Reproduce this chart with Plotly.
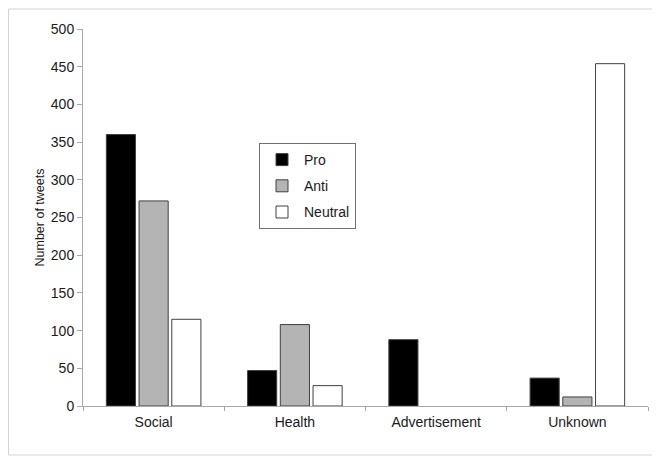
import plotly.graph_objects as go

categories = ["Social", "Health", "Advertisement", "Unknown"]
pro = [360, 47, 88, 37]
anti = [272, 108, 0, 12]
neutral = [115, 27, 0, 454]
y_ticks = [0, 50, 100, 150, 200, 250, 300, 350, 400, 450, 500]

series = [("Pro", pro, "#000000"), ("Anti", anti, "#b4b4b4"), ("Neutral", neutral, "#ffffff")]

# page body has an 8px margin; work in screenshot pixels and shift
OFF = 8
W, H = 652, 454
L, R, T, B = 83 - OFF, 660 - 648, 29 - OFF, 462 - 406
pw, ph = W - L - R, H - T - B

def px_x(x):
    return (x - OFF - L) / pw

def px_y(y):
    return (T + ph - (y - OFF)) / ph

fig = go.Figure()
for name, vals, col in series:
    fig.add_trace(go.Bar(
        x=categories, y=vals, name=name, legendgroup=name,
        marker=dict(color=col, line=dict(color="#404040",
                                         width=[1 if v > 0 else 0 for v in vals])),
    ))

fig.update_layout(
    width=W, height=H,
    margin=dict(l=L, r=R, t=T, b=B, autoexpand=False),
    paper_bgcolor="white", plot_bgcolor="white",
    barmode="group", bargap=0.305, bargroupgap=0.11,
    font=dict(family="Liberation Sans, Arial, sans-serif", size=14, color="#1a1a1a"),
    showlegend=True,
    legend=dict(
        x=px_x(259), y=px_y(143), xanchor="left", yanchor="top",
        bordercolor="#707070", borderwidth=1, bgcolor="white",
        font=dict(size=14), traceorder="grouped", tracegroupgap=5,
        itemwidth=34,
    ),
    xaxis=dict(
        showline=True, linecolor="#a8a8a8", linewidth=1,
        ticks="outside", tickson="boundaries", ticklen=4, tickcolor="#a8a8a8",
        showgrid=False, zeroline=False, ticklabelstandoff=3,
    ),
    yaxis=dict(
        range=[0, 500], tickvals=y_ticks,
        showline=True, linecolor="#a8a8a8", linewidth=1,
        ticks="outside", ticklen=5, tickcolor="#a8a8a8",
        showgrid=False, zeroline=False,
        title=dict(text="Number of tweets", font=dict(size=12.5), standoff=3),
    ),
    shapes=[dict(
        type="rect", xref="paper", yref="paper",
        x0=px_x(8.5), x1=px_x(653), y0=px_y(455), y1=px_y(9),
        line=dict(color="#d4d4d4", width=1), fillcolor="rgba(0,0,0,0)", layer="below",
    )],
)

fig.write_html("out.html")
